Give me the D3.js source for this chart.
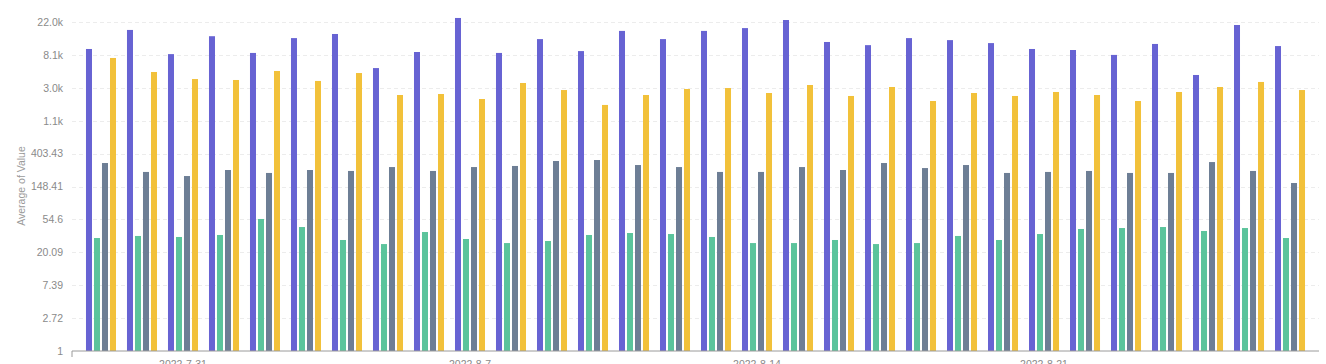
<!DOCTYPE html>
<html>
<head>
<meta charset="utf-8">
<script src="https://cdn.jsdelivr.net/npm/d3@7"></script>
<style>
  body { margin: 0; background: #fff; }
  svg { display: block; font-family: "Liberation Sans", Arial, sans-serif; }
</style>
</head>
<body>
<script>
// days on the x axis
const dates = ["2022-7-29","2022-7-30","2022-7-31","2022-8-1","2022-8-2","2022-8-3","2022-8-4",
  "2022-8-5","2022-8-6","2022-8-7","2022-8-8","2022-8-9","2022-8-10","2022-8-11",
  "2022-8-12","2022-8-13","2022-8-14","2022-8-15","2022-8-16","2022-8-17","2022-8-18",
  "2022-8-19","2022-8-20","2022-8-21","2022-8-22","2022-8-23","2022-8-24","2022-8-25",
  "2022-8-26","2022-8-27"];
const xTickLabels = ["2022-7-31", "2022-8-7", "2022-8-14", "2022-8-21"];

const seriesNames = ["s1", "s2", "s3", "s4"];
const blueValues = [9700, 17300, 8300, 14300, 8600, 13500, 15300, 5430, 8850, 24900,
  8600, 13100, 9100, 16800, 13100, 16800, 18300, 23400, 12000, 10900,
  13500, 12700, 11600, 9700, 9400, 8100, 11300, 4400, 20100, 10600];
const greenValues = [31, 33, 32, 34, 55.3, 43.3, 29.2, 25.8, 37.2, 30.1,
  26.6, 28.3, 34, 36.1, 35, 32, 26.6, 26.6, 29.2, 25.8,
  26.6, 33, 29.2, 35, 40.8, 42, 43.3, 38.4, 42, 31];
const greyValues = [303, 231, 204, 245, 224, 245, 238, 268, 238, 268,
  277, 322, 332, 285, 268, 231, 231, 268, 245, 303,
  260, 285, 224, 231, 238, 224, 224, 312, 238, 165];
const yellowValues = [7380, 4820, 3890, 3780, 4970, 3670, 4670, 2395, 2468, 2120,
  3450, 2785, 1770, 2395, 2875, 2960, 2545, 3245, 2325, 3055,
  1995, 2545, 2325, 2625, 2395, 1995, 2625, 3055, 3560, 2785];

const yTickValues = [1, Math.E, Math.E ** 2, Math.E ** 3, Math.E ** 4, Math.E ** 5,
  Math.E ** 6, Math.E ** 7, Math.E ** 8, Math.E ** 9, Math.E ** 10];
const yTickLabels = ["1", "2.72", "7.39", "20.09", "54.6", "148.41", "403.43",
  "1.1k", "3.0k", "8.1k", "22.0k"];

const colors = ["#6763d3", "#5bc49c", "#6d7e95", "#f2c13a"];

const width = 1326, height = 364;
const margin = { top: 22, right: 7, bottom: 13, left: 72 };

const rows = dates.map(function (d, i) {
  return { date: d, values: [blueValues[i], greenValues[i], greyValues[i], yellowValues[i]] };
});

const svg = d3.select("body").append("svg")
  .attr("width", width)
  .attr("height", height);

const x = d3.scaleBand()
  .domain(dates)
  .range([margin.left, width - margin.right])
  .paddingInner(0.268)
  .paddingOuter(0.341);

const xSub = d3.scaleBand()
  .domain(seriesNames)
  .range([0, x.bandwidth()])
  .paddingInner(0.25);

const y = d3.scaleLog()
  .base(Math.E)
  .domain([1, Math.E ** 10])
  .range([height - margin.bottom, margin.top]);

// grid
svg.append("g")
  .selectAll("line")
  .data(yTickValues.slice(1))
  .join("line")
  .attr("x1", margin.left)
  .attr("x2", width - margin.right)
  .attr("y1", d => Math.round(y(d)) + 0.5)
  .attr("y2", d => Math.round(y(d)) + 0.5)
  .attr("stroke", "#ececec")
  .attr("stroke-dasharray", "4,3");

// bars
svg.append("g")
  .selectAll("g")
  .data(rows)
  .join("g")
  .attr("transform", d => "translate(" + x(d.date) + ",0)")
  .selectAll("rect")
  .data(d => d.values.map((v, j) => ({ key: seriesNames[j], value: v, j: j })))
  .join("rect")
  .attr("x", d => xSub(d.key))
  .attr("width", xSub.bandwidth())
  .attr("y", d => y(d.value))
  .attr("height", d => y(1) - y(d.value))
  .attr("fill", d => colors[d.j]);

// y axis
const yAxis = svg.append("g")
  .attr("transform", "translate(" + margin.left + ",0)")
  .call(d3.axisLeft(y)
    .tickValues(yTickValues)
    .tickFormat((d, i) => yTickLabels[i])
    .tickSize(0)
    .tickPadding(9));
yAxis.select(".domain").remove();
yAxis.selectAll("text")
  .attr("fill", "#8a8a8a")
  .style("font-size", "10.5px");

// x axis
const xAxis = svg.append("g")
  .attr("transform", "translate(0," + (height - margin.bottom) + ")")
  .call(d3.axisBottom(x)
    .tickValues(xTickLabels)
    .tickSize(0)
    .tickPadding(10));
xAxis.select(".domain")
  .attr("stroke", "#9a9a9a")
  .attr("d", "M" + margin.left + ",6V0H" + (width - margin.right));
xAxis.selectAll("text")
  .attr("fill", "#8a8a8a")
  .style("font-size", "10.5px");

// y title
svg.append("text")
  .attr("transform", "translate(25," + 186 + ") rotate(-90)")
  .attr("text-anchor", "middle")
  .attr("fill", "#9a9a9a")
  .style("font-size", "10.5px")
  .text("Average of Value");
</script>
</body>
</html>
